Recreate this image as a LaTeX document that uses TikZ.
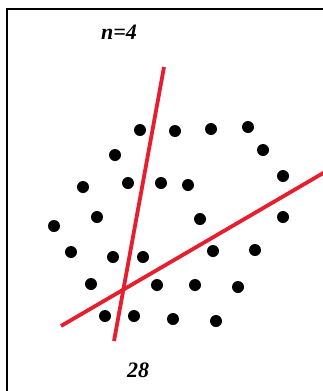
\documentclass[tikz,border=0pt]{standalone}
\usepackage{fontspec}
\setmainfont{Liberation Serif}
\begin{document}
\begin{tikzpicture}[x=1pt,y=-1pt,
  dot/.style={circle,fill=black,inner sep=0pt,minimum size=12pt},
  redline/.style={draw={rgb,255:red,230;green,30;blue,45},line width=3.8pt},
  lbl/.style={font=\fontsize{22}{26}\selectfont\bfseries\itshape}]
\useasboundingbox (0,0) rectangle (323,391);
\fill[white] (0,0) rectangle (323,391);
\draw[line width=1.3pt] (7,391) -- (7,9) -- (323,9);
\node[lbl] (n) at (119,32) {n=4};
\node[lbl] (c) at (138,370) {28};
\foreach \x/\y [count=\i] in {140/130,175/131,211/129,248/127,115/155,263/150,
  83/187,128/183,161/183,188/185,283/176,97/217,200/219,283/217,54/226,
  71/252,113/257,143/257,213/251,255/250,91/284,157/285,195/285,238/287,
  105/316,134/316,173/319,216/321}
  \node[dot] (d\i) at (\x,\y) {};
\coordinate (a1) at (164,67);
\coordinate (a2) at (114,341);
\coordinate (b1) at (61,326);
\coordinate (b2) at (325,172);
\draw[redline] (a1) -- (a2);
\draw[redline] (b1) -- (b2);
\end{tikzpicture}
\end{document}
